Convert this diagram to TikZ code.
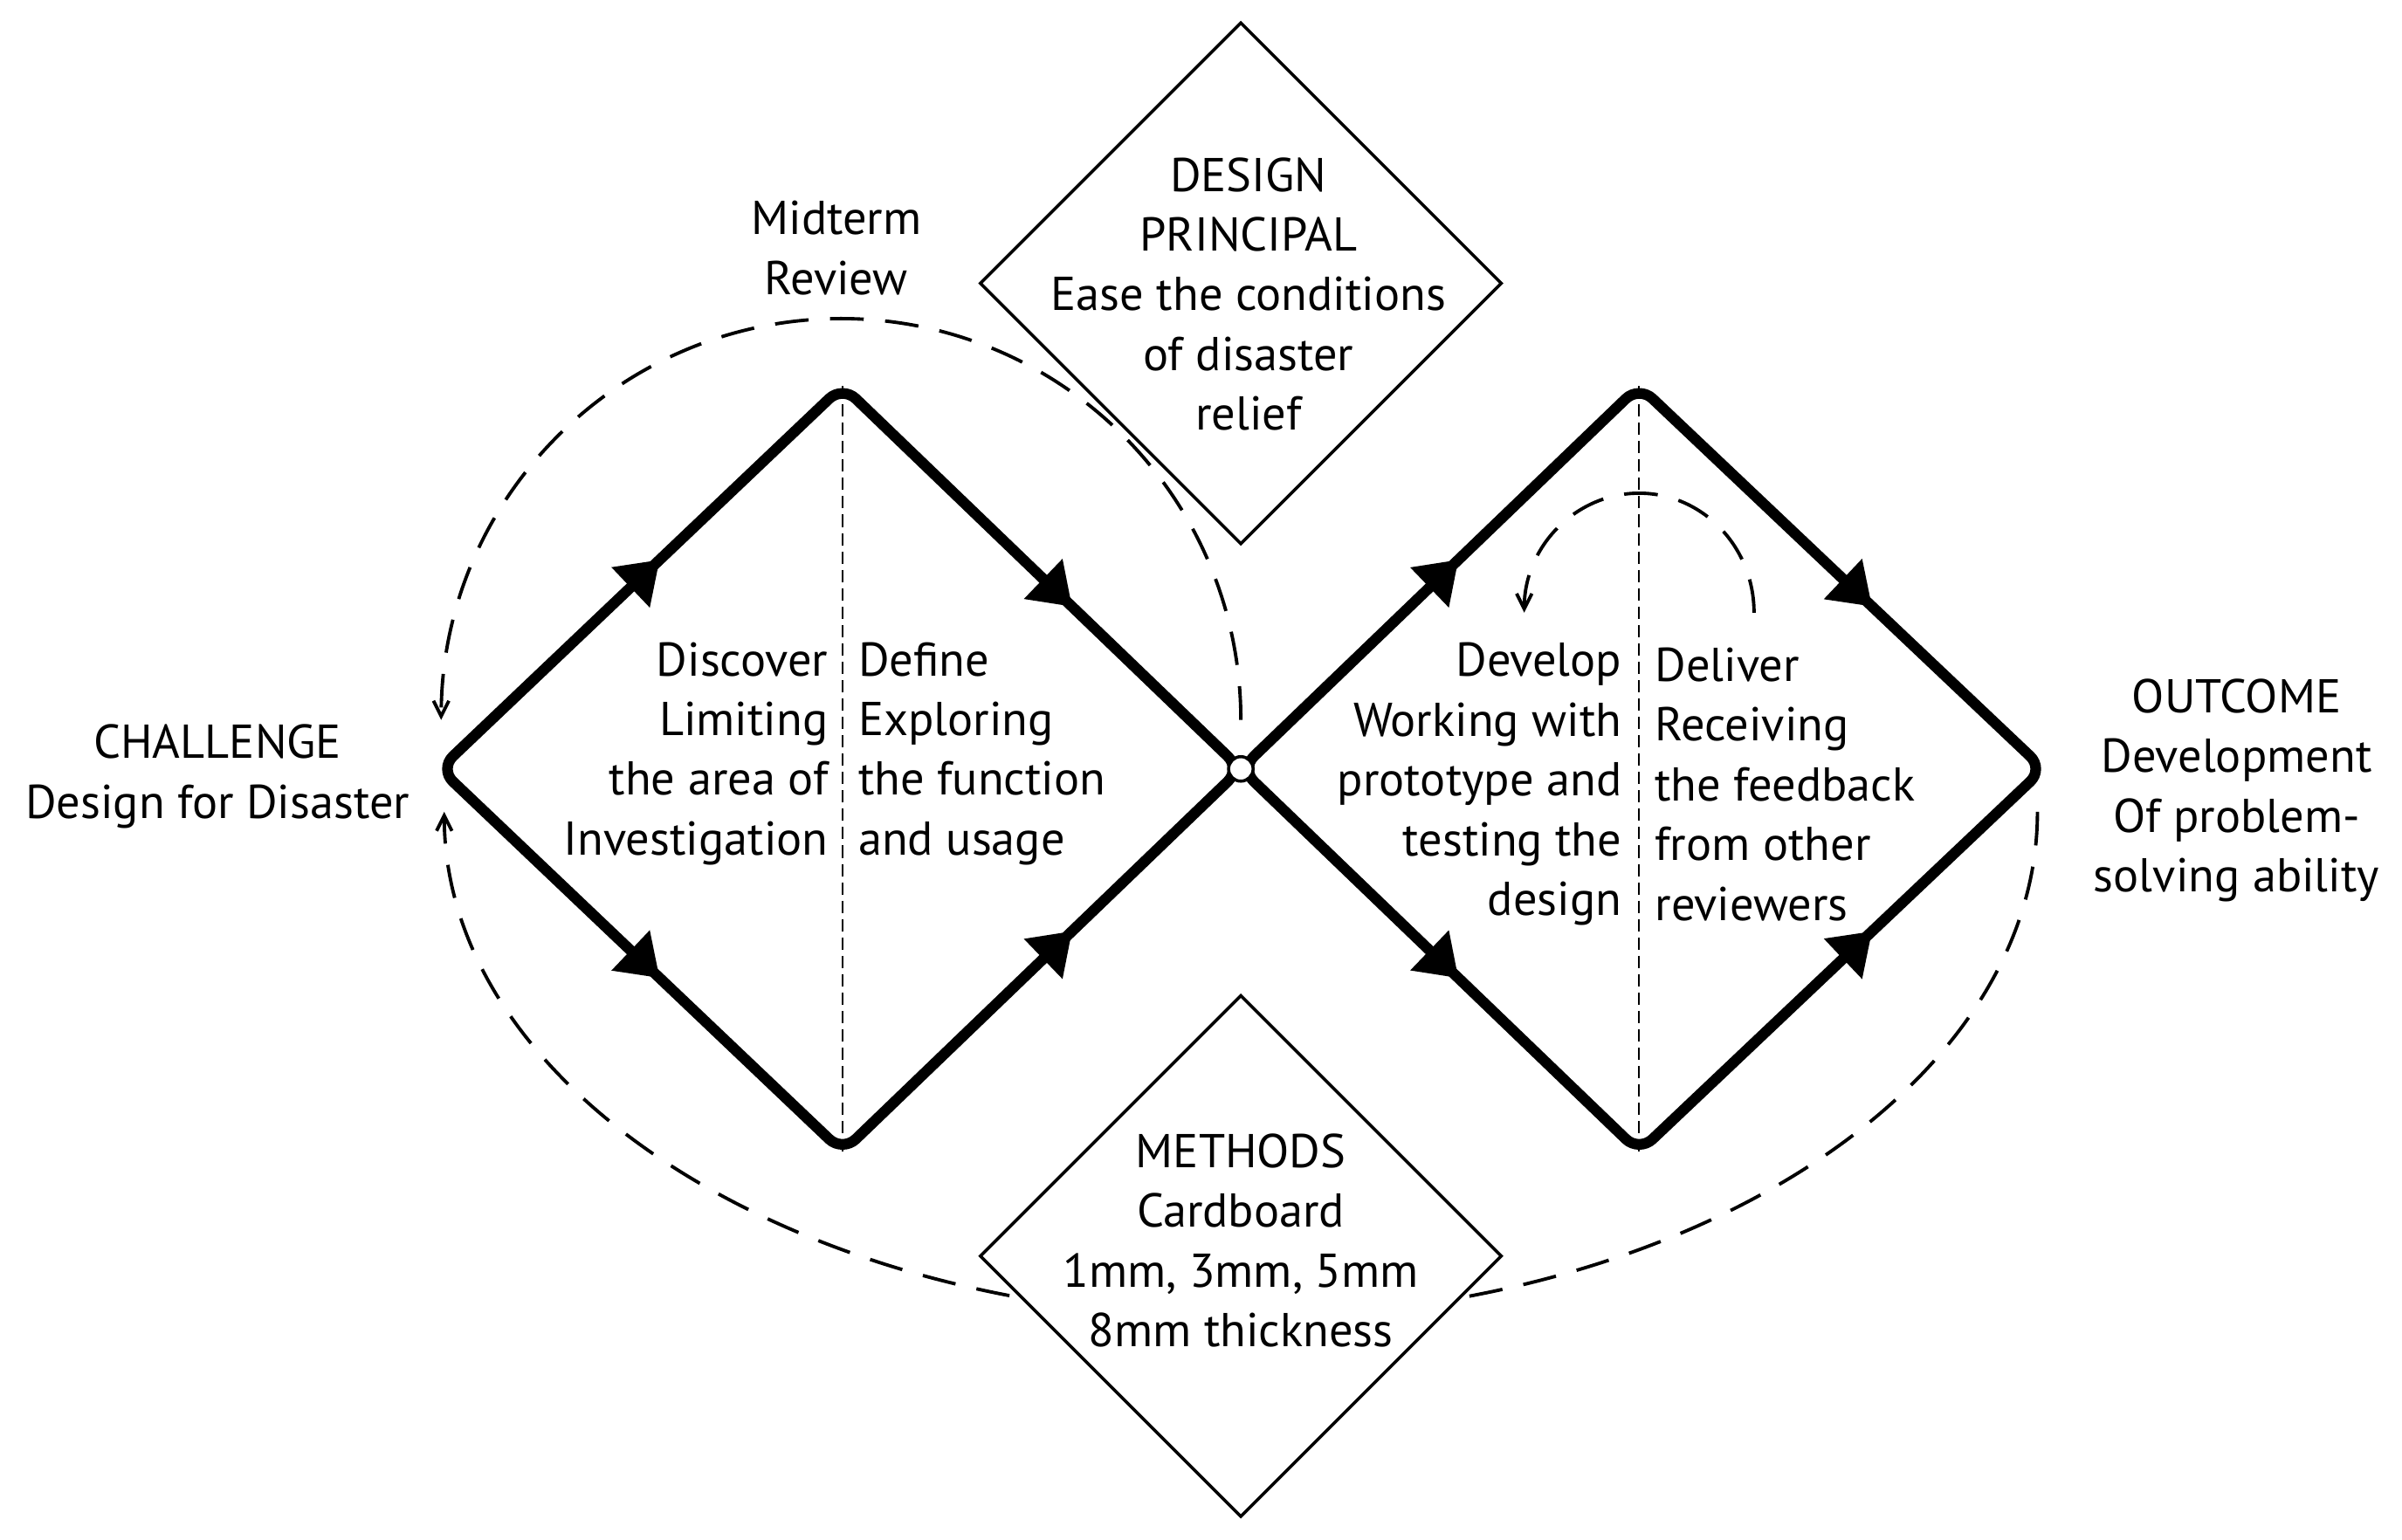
\documentclass[tikz,border=0pt]{standalone}
\usepackage{fontspec}
\setmainfont{PT Sans}
\usetikzlibrary{shapes.geometric,arrows.meta}
\begin{document}
\begin{tikzpicture}[x=0.5pt,y=-0.5pt,
  txt/.style={font=\fontsize{15.5}{19.5}\selectfont,inner sep=0pt},
  big/.style={line width=3.5pt,rounded corners=6pt,line join=round},
  tri/.style={isosceles triangle,isosceles triangle apex angle=70,fill=black,inner sep=0pt,minimum height=13pt,minimum width=14pt,sloped,allow upside down},
  mydash/.style={line width=1.1pt,dash pattern=on 11pt off 7pt},
  mythin/.style={line width=0.5pt,dash pattern=on 4pt off 2pt},
  box/.style={line width=1pt,fill=white}]
\useasboundingbox (0,0) rectangle (1568,1005);
% coordinates
\coordinate (L) at (287,502); \coordinate (T1) at (550,252);
\coordinate (C) at (810,502); \coordinate (B1) at (550,752);
\coordinate (T2) at (1070,252); \coordinate (R) at (1334,502);
\coordinate (B2) at (1070,752);
% dashed curves
\draw[mydash,-{Straight Barb[length=5pt,width=5pt]}] (810,470) arc[start angle=0,end angle=-180,x radius=261,y radius=262];
\draw[mydash,-{Straight Barb[length=5pt,width=5pt]}] (1330,530) arc[start angle=0,end angle=180,x radius=520,y radius=330];
\draw[mydash,-{Straight Barb[length=5pt,width=5pt]}] (1145,400) arc[start angle=0,end angle=-180,x radius=75,y radius=78];
% thin dashed verticals
\draw[mythin] (T1) -- (B1); \draw[mythin] (T2) -- (B2);
% diamonds
\draw[big] (C) -- (T1) -- (L) -- (B1) -- cycle;
\draw[big] (C) -- (T2) -- (R) -- (B2) -- cycle;
% arrows
\path (L) -- (T1) node[tri,pos=.5]{};
\path (T1) -- (C) node[tri,pos=.53]{};
\path (L) -- (B1) node[tri,pos=.5]{};
\path (B1) -- (C) node[tri,pos=.53]{};
\path (C) -- (T2) node[tri,pos=.5]{};
\path (T2) -- (R) node[tri,pos=.53]{};
\path (C) -- (B2) node[tri,pos=.5]{};
\path (B2) -- (R) node[tri,pos=.53]{};
\node[circle,draw,fill=white,line width=1pt,minimum size=8pt,inner sep=0pt] (ctr) at (C) {};
% text diamonds
\draw[box] (810,15) -- (980,185) -- (810,355) -- (640,185) -- cycle;
\draw[box] (810,650) -- (980,820) -- (810,990) -- (640,820) -- cycle;
\node[txt,align=center] (dp) at (815,192) {DESIGN\\PRINCIPAL\\Ease the conditions\\of disaster\\relief};
\node[txt,align=center] (me) at (810,810) {METHODS\\Cardboard\\1mm, 3mm, 5mm\\8mm thickness};
\node[txt,align=center] (mid) at (546,162) {Midterm\\Review};
\node[txt,align=center] (ch) at (142,507) {CHALLENGE\\Design for Disaster};
\node[txt,align=center] (out) at (1460,516) {OUTCOME\\Development\\Of problem-\\solving ability};
\node[txt,align=right,anchor=east] (disc) at (541,492) {Discover\\Limiting\\the area of\\Investigation};
\node[txt,align=left,anchor=west] (def) at (560,492) {Define\\Exploring\\the function\\and usage};
\node[txt,align=right,anchor=east] (dev) at (1059,512) {Develop\\Working with\\prototype and\\testing the\\design};
\node[txt,align=left,anchor=west] (del) at (1080,512) {Deliver\\Receiving\\the feedback\\from other\\reviewers};
\end{tikzpicture}
\end{document}
